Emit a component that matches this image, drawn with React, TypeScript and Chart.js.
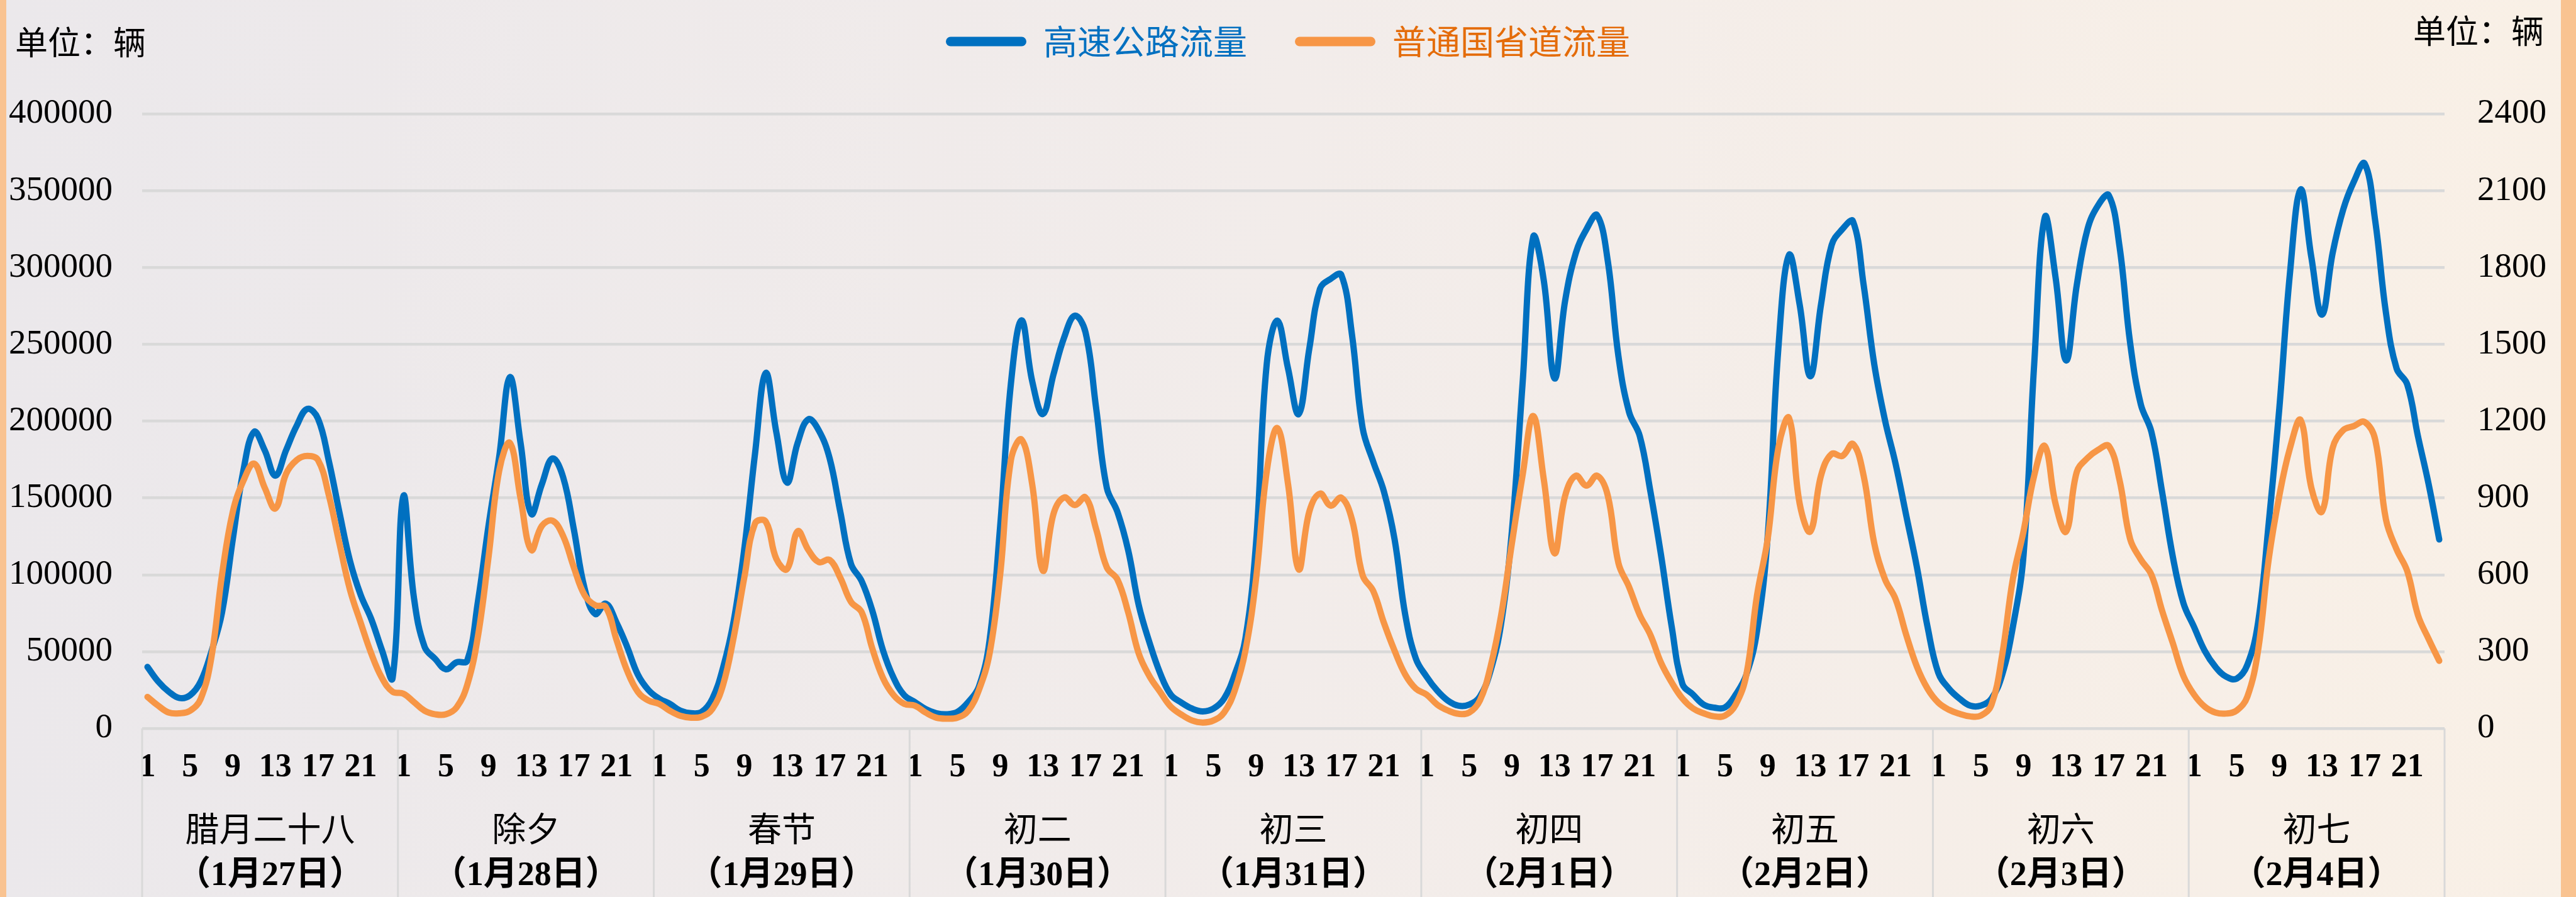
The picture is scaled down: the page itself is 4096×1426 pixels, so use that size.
import React, { useEffect, useRef } from 'react';
import { Chart, registerables } from 'chart.js';

Chart.register(...registerables);

const W = 4096;
const H = 1426;

// hour tick labels (one day)
const hourLabels = ['1','2','3','4','5','6','7','8','9','10','11','12','13','14','15','16','17','18','19','20','21','22','23','24'];
const shownHours = ['1', '5', '9', '13', '17', '21'];

const dayNames = ['腊月二十八', '除夕', '春节', '初二', '初三', '初四', '初五', '初六', '初七'];
const dayDates = ['（1月27日）', '（1月28日）', '（1月29日）', '（1月30日）', '（1月31日）', '（2月1日）', '（2月2日）', '（2月3日）', '（2月4日）'];

const seriesNames = ['高速公路流量', '普通国省道流量'];
const unitText = '单位：辆';

// 高速公路流量 (left axis), hourly, 9 days x 24 h
const highway = [
  40000, 30600, 23900, 19800, 21600, 30600, 50000, 75600, 122900, 167900, 193000, 181000, 164500, 181000, 197000, 208000, 201600, 174600, 140900, 109000, 86900, 71100, 50900, 32900,
  151000, 85000, 53100, 45200, 38500, 43000, 44100, 82400, 132000, 176900, 228600, 185900, 139700, 158900, 175700, 163400, 129600, 91400, 74500, 81200, 68900, 53100, 35100, 25000,
  19400, 16000, 11500, 9900, 10800, 19400, 39600, 70000, 117300, 179000, 231300, 192600, 160000, 185900, 201200, 193700, 175700, 140900, 107100, 95900, 76700, 50900, 32900, 21600,
  17100, 12600, 9900, 9200, 10800, 17100, 27200, 57200, 132000, 224200, 265600, 226000, 204600, 230500, 254500, 268600, 257900, 208400, 156600, 140900, 116100, 80100, 56000, 36000,
  22000, 16800, 12900, 11100, 12900, 19400, 35000, 58300, 120400, 236900, 265400, 234300, 204600, 247300, 286100, 292600, 295200, 256300, 195500, 173500, 154100, 123000, 73800, 45300,
  33700, 24600, 18100, 14800, 15500, 20700, 37500, 68600, 128200, 224000, 319800, 291300, 227800, 278500, 309400, 324900, 334000, 304200, 242100, 205800, 190300, 154100, 112600, 66000,
  29000, 22000, 15500, 13500, 13700, 22000, 35000, 63400, 125000, 247300, 308100, 275800, 229200, 275800, 314600, 324900, 330100, 288700, 236900, 200700, 172200, 138500, 104900, 66000,
  36300, 25900, 19400, 14800, 14800, 19400, 35000, 66000, 112600, 236900, 332700, 293900, 239500, 288700, 324900, 340500, 347000, 314000, 251000, 211000, 193000, 154000, 112000, 81600,
  66000, 50500, 40100, 33700, 32400, 41400, 68600, 133300, 208400, 296500, 350800, 306800, 269300, 309400, 337900, 356000, 367700, 330100, 270600, 234300, 223900, 190300, 159200, 123000,
];

// 普通国省道流量 (right axis), hourly, 9 days x 24 h
const national = [
  123, 89, 62, 59, 69, 116, 278, 602, 845, 967, 1034, 940, 859, 994, 1048, 1064, 1048, 913, 724, 541, 413, 292, 197, 143,
  136, 103, 69, 55, 55, 82, 170, 359, 670, 1007, 1115, 899, 697, 791, 811, 751, 629, 521, 481, 474, 346, 225, 143, 109,
  96, 69, 49, 42, 46, 76, 170, 357, 591, 801, 808, 662, 622, 770, 697, 649, 658, 588, 494, 454, 312, 197, 130, 96,
  89, 62, 42, 38, 42, 69, 150, 292, 602, 1047, 1128, 953, 616, 838, 902, 872, 902, 778, 629, 581, 454, 292, 204, 143,
  85, 54, 31, 23, 31, 62, 148, 303, 583, 1002, 1173, 955, 621, 847, 917, 870, 901, 816, 598, 536, 412, 303, 210, 155,
  132, 93, 70, 57, 62, 109, 241, 443, 722, 987, 1220, 971, 684, 909, 987, 948, 987, 909, 645, 552, 443, 365, 256, 179,
  117, 78, 59, 47, 50, 93, 210, 520, 740, 1095, 1212, 878, 769, 987, 1072, 1064, 1111, 987, 722, 583, 505, 365, 241, 155,
  101, 73, 57, 47, 50, 93, 287, 583, 769, 987, 1103, 878, 769, 1002, 1056, 1088, 1103, 971, 740, 660, 600, 460, 334, 205,
  132, 85, 62, 58, 70, 124, 303, 660, 909, 1095, 1204, 940, 847, 1095, 1165, 1181, 1197, 1127, 816, 699, 614, 443, 350, 264,
];

const BLUE = '#0070C0';
const ORANGE = '#F79646';
const ORANGE_TEXT = '#E46C0A';
const GRID = '#D9D9D9';
const SERIF = '"Liberation Serif", "Noto Sans CJK SC", serif';
const CJK = '"Noto Sans CJK SC", "Liberation Serif", sans-serif';

export default function App() {
  const ref = useRef<HTMLCanvasElement>(null);

  useEffect(() => {
    const canvas = ref.current;
    if (!canvas) return;

    const labels = dayNames.flatMap(() => hourLabels);

    const background = {
      id: 'background',
      beforeDraw(chart: any) {
        const { ctx, width, height } = chart;
        ctx.save();
        const g = ctx.createLinearGradient(0, 0, width, 0);
        g.addColorStop(0, '#EBE8EB');
        g.addColorStop(0.5, '#F2ECEA');
        g.addColorStop(1, '#F9F0E6');
        ctx.fillStyle = g;
        ctx.fillRect(0, 0, width, height);
        ctx.fillStyle = '#F9C391';
        ctx.fillRect(0, 0, 10, height);
        ctx.fillRect(width - 24, 0, 24, height);
        ctx.restore();
      },
    };

    const extras = {
      id: 'extras',
      afterDraw(chart: any) {
        const { ctx, chartArea, height, width } = chart;
        const x = chart.scales.x;
        ctx.save();
        ctx.strokeStyle = GRID;
        ctx.lineWidth = 3;
        for (let k = 0; k <= dayNames.length; k++) {
          let px: number;
          if (k === 0) px = x.left;
          else if (k === dayNames.length) px = x.right;
          else px = (x.getPixelForValue(24 * k - 1) + x.getPixelForValue(24 * k)) / 2;
          ctx.beginPath();
          ctx.moveTo(px, chartArea.bottom);
          ctx.lineTo(px, height);
          ctx.stroke();
        }
        ctx.fillStyle = '#000';
        ctx.font = `52px ${SERIF}`;
        ctx.textBaseline = 'middle';
        ctx.textAlign = 'left';
        ctx.fillText(unitText, 24, 73);
        ctx.textAlign = 'right';
        ctx.fillText(unitText, width - 51, 55);
        ctx.restore();
      },
    };

    const lineStyle = {
      borderWidth: 10,
      pointRadius: 0,
      tension: 0.4,
      borderCapStyle: 'round',
      borderJoinStyle: 'round',
    };

    const chart = new Chart(canvas, {
      type: 'line',
      data: {
        labels,
        datasets: [
          {
            label: seriesNames[0],
            data: highway,
            xAxisID: 'x',
            yAxisID: 'yL',
            borderColor: BLUE,
            backgroundColor: BLUE,
            ...lineStyle,
            order: 1,
          },
          {
            label: seriesNames[1],
            data: national,
            xAxisID: 'x',
            yAxisID: 'yR',
            borderColor: ORANGE,
            backgroundColor: ORANGE,
            ...lineStyle,
            order: 0,
          },
        ],
      },
      options: {
        responsive: false,
        animation: false,
        layout: { padding: { top: -37, left: 0, right: 0, bottom: 0 } },
        plugins: {
          tooltip: { enabled: false },
          legend: {
            display: true,
            position: 'top',
            align: 'center',
            labels: {
              boxWidth: 128,
              boxHeight: 15,
              padding: 76,
              useBorderRadius: true,
              borderRadius: 7.5,
              font: { family: CJK, size: 54 },
              generateLabels: () => [
                { text: seriesNames[0], fillStyle: BLUE, strokeStyle: BLUE, lineWidth: 0, fontColor: BLUE, hidden: false, datasetIndex: 0, borderRadius: 7.5 },
                { text: seriesNames[1], fillStyle: ORANGE, strokeStyle: ORANGE, lineWidth: 0, fontColor: ORANGE_TEXT, hidden: false, datasetIndex: 1, borderRadius: 7.5 },
              ],
            },
          },
          subtitle: {
            display: true,
            text: '',
            weight: 100,
            font: { size: 10, lineHeight: 1 },
            padding: { top: 0, bottom: 68 },
          },
        },
        scales: {
          x: {
            type: 'category',
            position: 'bottom',
            offset: true,
            ticks: {
              autoSkip: false,
              maxRotation: 0,
              minRotation: 0,
              padding: 31,
              color: '#000',
              font: { family: SERIF, size: 52, weight: 'bold' },
              callback(this: any, v: any) {
                const l = this.getLabelForValue(v);
                return shownHours.includes(l) ? l : '';
              },
            },
            grid: { display: false, drawTicks: false },
            border: { display: false },
            afterFit: (s: any) => { s.height = 110; },
          },
          xDay: {
            type: 'category',
            position: 'bottom',
            labels: dayNames,
            offset: true,
            ticks: {
              autoSkip: false,
              maxRotation: 0,
              minRotation: 0,
              padding: 23,
              color: '#000',
              font: { family: SERIF, size: 54, lineHeight: 1.2 },
            },
            grid: { display: false, drawTicks: false },
            border: { display: false },
            afterFit: (s: any) => { s.height = 90; },
          },
          xDate: {
            type: 'category',
            position: 'bottom',
            labels: dayDates,
            offset: true,
            ticks: {
              autoSkip: false,
              maxRotation: 0,
              minRotation: 0,
              padding: 3,
              color: '#000',
              font: { family: SERIF, size: 54, lineHeight: 1.2, weight: 'bold' },
            },
            grid: { display: false, drawTicks: false },
            border: { display: false },
            afterFit: (s: any) => { s.height = 68; },
          },
          yL: {
            type: 'linear',
            position: 'left',
            min: 0,
            max: 400000,
            ticks: {
              stepSize: 50000,
              padding: 47,
              color: '#000',
              font: { family: SERIF, size: 55 },
              callback: (v: any) => String(v),
            },
            grid: { color: GRID, lineWidth: 4.5, drawTicks: false },
            border: { display: false },
            afterFit: (s: any) => { s.width = 226; },
          },
          yR: {
            type: 'linear',
            position: 'right',
            min: 0,
            max: 2400,
            ticks: {
              stepSize: 300,
              padding: 52,
              color: '#000',
              font: { family: SERIF, size: 55 },
              callback: (v: any) => String(v),
            },
            grid: { drawOnChartArea: false, drawTicks: false },
            border: { display: false },
            afterFit: (s: any) => { s.width = 209; },
          },
        },
      } as any,
      plugins: [background, extras],
    });

    return () => chart.destroy();
  }, []);

  return (
    <div style={{ position: 'absolute', left: 0, top: 0, width: W, height: H }}>
      <canvas ref={ref} width={W} height={H} style={{ display: 'block', width: W, height: H }} />
    </div>
  );
}
